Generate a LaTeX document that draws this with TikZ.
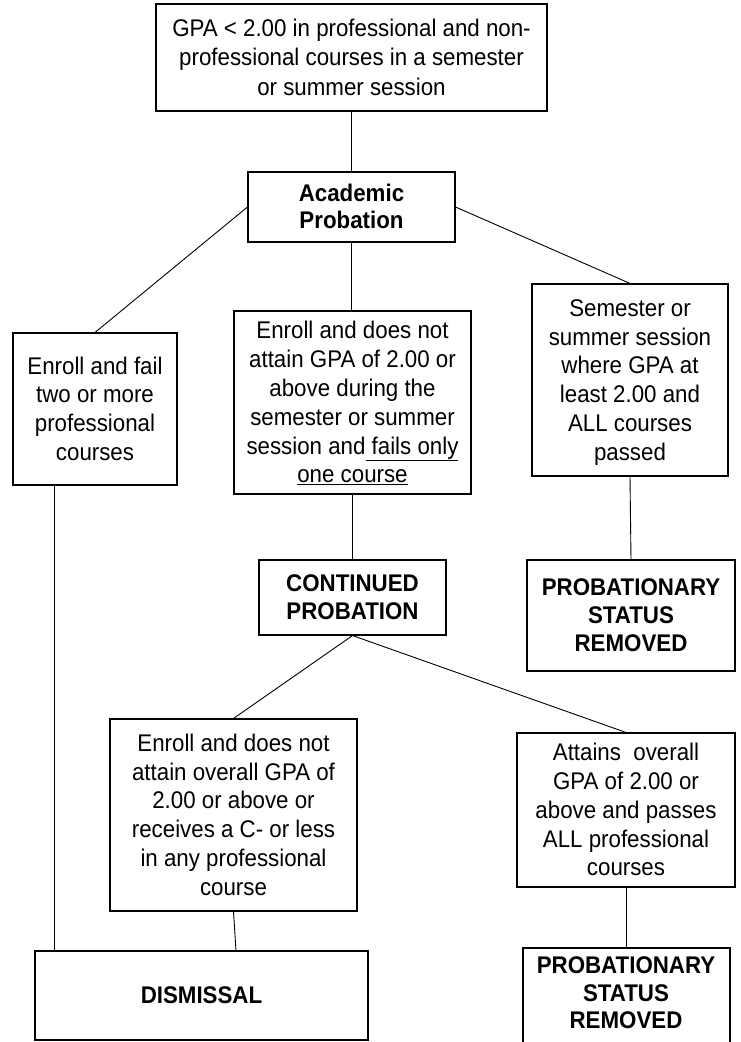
\documentclass[tikz,border=0pt]{standalone}
\usepackage{fontspec}
\usepackage{graphicx}
\setmainfont{Liberation Sans}
\newcommand{\talltext}[1]{\raisebox{-2.5pt}[\height][\depth]{\scalebox{1}[1.08]{\begin{tabular}{@{}c@{}}#1\end{tabular}}}}
\begin{document}
\begin{tikzpicture}[x=1pt,y=-1pt,
  box/.style={draw, line width=1.1pt, align=center, inner sep=0pt, font=\fontsize{22.3pt}{26.7pt}\selectfont},
  bbox/.style={box, font=\fontsize{22.3pt}{25.5pt}\selectfont\bfseries},
  link/.style={line width=0.9pt}]
\useasboundingbox (0,0) rectangle (740,1042);
\clip (0,0) rectangle (740,1042);
\fill[white] (0,0) rectangle (740,1042);

\node[box, minimum width=391pt, minimum height=107pt, font=\fontsize{22.3pt}{27.3pt}\selectfont] (top) at (351.5,57.5)
  {\talltext{GPA < 2.00 in professional and non-\\professional courses in a semester\\or summer session}};
\node[bbox, minimum width=207pt, minimum height=70pt] (ap) at (351.5,207) {\talltext{Academic\\Probation}};
\node[box, minimum width=164pt, minimum height=152pt] (left) at (95,409)
  {\talltext{Enroll and fail\\two or more\\professional\\courses}};
\node[box, minimum width=237pt, minimum height=183pt] (mid) at (352.5,402.5)
  {\talltext{Enroll and does not\\attain GPA of 2.00 or\\above during the\\semester or summer\\session and\underline{ fails only}\\\underline{one course}}};
\node[box, minimum width=196pt, minimum height=192pt] (right) at (630,380)
  {\talltext{Semester or\\summer session\\where GPA at\\least 2.00 and\\ALL courses\\passed}};
\node[bbox, minimum width=187pt, minimum height=75pt] (cp) at (352.5,597.5) {\talltext{CONTINUED\\PROBATION}};
\node[bbox, minimum width=208pt, minimum height=111pt] (psr1) at (631,615.5) {\talltext{PROBATIONARY\\STATUS\\REMOVED}};
\node[box, minimum width=247pt, minimum height=192pt] (ll) at (233.5,815)
  {\talltext{Enroll and does not\\attain overall GPA of\\2.00 or above or\\receives a C- or less\\in any professional\\course}};
\node[box, minimum width=218pt, minimum height=154pt] (att) at (626,810)
  {\talltext{Attains\ \ overall\\GPA of 2.00 or\\above and passes\\ALL professional\\courses}};
\node[bbox, minimum width=333pt, minimum height=89pt] (dism) at (201.5,995.5) {\talltext{DISMISSAL}};
\node[bbox, draw=none] (psr2) at (626,993) {\talltext{PROBATIONARY\\STATUS\\REMOVED}};
\draw[line width=1.1pt] (523,948) rectangle (730,1060);
\coordinate (psr2top) at (626,948);

\draw[link] (top) -- (ap);
\draw[link] (ap.west) -- (left.north);
\draw[link] (ap.east) -- (right.north);
\draw[link] (ap.south) -- (ap.south |- mid.north);
\draw[link] (mid) -- (cp);
\draw[link] (right.south) -- (psr1.north);
\draw[link] ([xshift=42pt]left.south west) -- ([xshift=42pt]left.south west |- dism.north);
\draw[link] (cp.south) -- (ll.north);
\draw[link] (cp.south) -- (att.north);
\draw[link] (ll.south) -- ([xshift=34.5pt]dism.north);
\draw[link] (att.south) -- (psr2top);
\end{tikzpicture}
\end{document}
